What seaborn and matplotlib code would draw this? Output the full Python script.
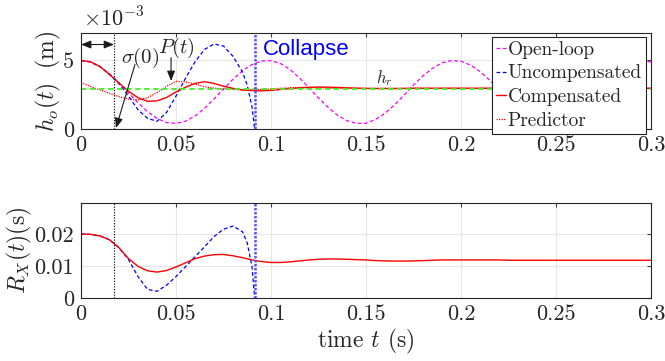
import numpy as np
import pandas as pd
import matplotlib
matplotlib.use("Agg")
import matplotlib.pyplot as plt
import seaborn as sns

# ------------------- data -------------------
# sample times for the full-length series (s)
t = np.round(np.arange(0, 0.3001, 0.005), 4)

# h_o(t) in units of 1e-3 m
h_open = [5.00, 4.88, 4.54, 4.02, 3.36, 2.63, 1.91, 1.26, 0.77, 0.47,
          0.41, 0.57, 0.95, 1.51, 2.19, 2.92, 3.63, 4.25, 4.70, 4.96,
          4.98, 4.77, 4.34, 3.72, 2.99, 2.26, 1.58, 1.00, 0.60, 0.41,
          0.42, 0.70, 1.15, 1.76, 2.47, 3.21, 3.88, 4.43, 4.83, 4.99,
          4.94, 4.66, 4.19, 3.57, 2.85, 2.12, 1.46, 0.92, 0.55, 0.40,
          0.52, 0.79, 1.28, 1.91, 2.63, 3.36, 4.02, 4.54, 4.88, 5.00,
          4.88]
h_comp = [5.00, 4.90, 4.55, 3.98, 3.35, 2.75, 2.28, 2.02, 2.05, 2.30,
          2.70, 3.05, 3.32, 3.45, 3.32, 3.12, 2.96, 2.85, 2.80, 2.78,
          2.82, 2.88, 2.95, 3.00, 3.04, 3.06, 3.05, 3.03, 3.00, 2.98,
          2.96, 2.95, 2.95, 2.95, 2.96, 2.97, 2.97, 2.97, 2.97, 2.97,
          2.97, 2.97, 2.97, 2.97, 2.97, 2.97, 2.97, 2.97, 2.97, 2.97,
          2.97, 2.97, 2.97, 2.97, 2.97, 2.97, 2.97, 2.97, 2.97, 2.97,
          2.97]
h_pred = [3.38, 3.10, 2.85, 2.60, 2.36, 2.18, 2.12, 2.28, 2.65, 3.12,
          3.48, 3.44, 3.28, 3.08, 2.98, 2.92, 2.88, 2.86, 2.86, 2.88,
          2.92, 2.97, 3.01, 3.03, 3.02, 3.00, 2.98, 2.97, 2.96, 2.96,
          2.96, 2.96, 2.96, 2.96, 2.96, 2.97, 2.97, 2.97, 2.97, 2.97,
          2.97, 2.97, 2.97, 2.97, 2.97, 2.97, 2.97, 2.97, 2.97, 2.97,
          2.97, 2.97, 2.97, 2.97, 2.97, 2.97, 2.97, 2.97, 2.97, 2.97,
          2.97]

# uncompensated run stops at the collapse
t_unc = [0, 0.005, 0.01, 0.015, 0.02, 0.025, 0.03, 0.035, 0.04, 0.045,
         0.05, 0.055, 0.06, 0.065, 0.07, 0.075, 0.08, 0.085, 0.0875, 0.09,
         0.0914]
h_unc = [5.00, 4.90, 4.55, 3.98, 3.30, 2.40, 1.40, 0.78, 0.56, 1.20,
         2.40, 3.70, 4.90, 5.80, 6.20, 6.05, 5.30, 4.15, 3.20, 1.60,
         0.0]

t_ref = [0, 0.3]
h_ref = [2.95, 2.95]

# R_X(t) in s
r_comp = [0.0200, 0.0199, 0.0194, 0.0182, 0.0157, 0.0123, 0.0099, 0.0085, 0.0081, 0.0086,
          0.0097, 0.0110, 0.0123, 0.0131, 0.01355, 0.0136, 0.0132, 0.0126, 0.0119, 0.0114,
          0.0111, 0.0111, 0.0113, 0.0116, 0.0119, 0.0121, 0.0122, 0.0122, 0.0121, 0.0120,
          0.0119, 0.0117, 0.0116, 0.01155, 0.01155, 0.0116, 0.0117, 0.0118, 0.0119, 0.0119,
          0.0119, 0.0119, 0.0119, 0.0119, 0.0119, 0.0118, 0.0118, 0.0118, 0.0118, 0.0118,
          0.0118, 0.0118, 0.0118, 0.0118, 0.0118, 0.0118, 0.0118, 0.0118, 0.0118, 0.0118,
          0.0118]
r_unc = [0.0200, 0.0199, 0.0194, 0.0182, 0.0157, 0.0120, 0.0067, 0.0027, 0.0021, 0.0040,
         0.0067, 0.0098, 0.0129, 0.0160, 0.0192, 0.0215, 0.0225, 0.0207, 0.0172, 0.0098,
         0.0]

sigma0 = 0.0174
t_collapse = 0.0914

x_ticks = [0, 0.05, 0.1, 0.15, 0.2, 0.25, 0.3]
x_tick_labels = ['0', '0.05', '0.1', '0.15', '0.2', '0.25', '0.3']
h_ticks = [0, 5]
r_ticks = [0, 0.01, 0.02]
r_tick_labels = ['0', '0.01', '0.02']

# ------------------- style -------------------
sns.set_theme(style='white')
plt.rcParams.update({
    'font.family': 'serif',
    'font.serif': ['cmr10'],
    'mathtext.fontset': 'cm',
    'axes.unicode_minus': False,
    'axes.formatter.use_mathtext': True,
})

fig = plt.figure(figsize=(6.65, 3.61), dpi=100)
ax1 = fig.add_axes([81/665, 1 - 129/361, 570/665, 96/361])
ax2 = fig.add_axes([81/665, 1 - 298/361, 570/665, 95/361])

for ax in (ax1, ax2):
    ax.grid(True, color='#e6e6e6', lw=0.8)
    ax.set_axisbelow(True)
    for s in ax.spines.values():
        s.set_color('#262626')
        s.set_linewidth(0.8)
    ax.tick_params(direction='in', length=3, width=0.8, color='#404040',
                   top=True, right=True, labelsize=16, pad=5)
    ax.set_xlim(0, 0.3)
    ax.set_xticks(x_ticks, x_tick_labels)

# ------------------- top: h_o(t) -------------------
df_h = pd.DataFrame({'t': t, 'open': h_open, 'comp': h_comp, 'pred': h_pred})
sns.lineplot(data=df_h, x='t', y='open', ax=ax1, color='#ff00ff', lw=0.9,
             linestyle=(0, (3, 2)), label='Open-loop')
sns.lineplot(x=t_unc, y=h_unc, ax=ax1, color='#0000ff', lw=0.9,
             linestyle=(0, (3, 2)), label='Uncompensated')
sns.lineplot(data=df_h, x='t', y='comp', ax=ax1, color='#ff0000', lw=1.0,
             label='Compensated')
sns.lineplot(data=df_h, x='t', y='pred', ax=ax1, color='#ff0000', lw=0.9,
             linestyle=(0, (1, 1)), label='Predictor')
sns.lineplot(x=t_ref, y=h_ref, ax=ax1, color='#44ee22', lw=1.3,
             linestyle=(0, (3, 2)), legend=False)

ax1.axvline(sigma0, color='k', ls=(0, (1, 1.2)), lw=0.9)
ax1.axvline(t_collapse, color='#5555ff', ls=(0, (1, 0.6)), lw=1.8)
ax1.set_ylim(0, 7)
ax1.set_yticks(h_ticks, ['0', '5'])
ax1.set_xlabel('')
ax1.set_ylabel(r'$h_o(t)\ \ (\mathrm{m})$', fontsize=17, labelpad=0)
ax1.text(0.004, 1.03, r'$\times 10^{-3}$', transform=ax1.transAxes,
         fontsize=16, va='bottom', ha='left')

ax1.annotate('', xy=(0, 6.16), xytext=(sigma0, 6.16),
             arrowprops=dict(arrowstyle='<|-|>,head_length=0.5,head_width=0.2',
                             color='k', lw=0.8, shrinkA=0, shrinkB=0))
ax1.text(0.0212, 5.2, r'$\sigma(0)$', fontsize=15, va='center', ha='left')
ax1.annotate('', xy=(0.0184, 0.07), xytext=(0.0284, 4.7),
             arrowprops=dict(arrowstyle='-|>,head_length=0.5,head_width=0.2',
                             color='k', lw=0.8, shrinkA=0, shrinkB=0))
ax1.text(0.0403, 5.9, r'$P(t)$', fontsize=15, va='center', ha='left')
ax1.annotate('', xy=(0.0474, 3.5), xytext=(0.0474, 5.2),
             arrowprops=dict(arrowstyle='-|>,head_length=0.5,head_width=0.2',
                             color='k', lw=0.8, shrinkA=0, shrinkB=0))
ax1.text(0.1555, 3.73, r'$h_r$', fontsize=12, va='center', ha='left')
ax1.text(0.0958, 5.36, 'Collapse', fontsize=16, color='#0000ff',
         family='Liberation Sans', va='baseline', ha='left')

leg = ax1.legend(loc='upper right', bbox_to_anchor=(0.991, 0.962),
                 fontsize=14, frameon=True, fancybox=False, framealpha=1,
                 edgecolor='#222222', borderpad=0.2, labelspacing=0.3,
                 handlelength=0.55, handletextpad=0.08, borderaxespad=0)
leg.get_frame().set_linewidth(0.8)

# ------------------- bottom: R_X(t) -------------------
df_r = pd.DataFrame({'t': t, 'comp': r_comp})
sns.lineplot(x=t_unc, y=r_unc, ax=ax2, color='#0000ff', lw=0.9,
             linestyle=(0, (3, 2)), legend=False)
sns.lineplot(data=df_r, x='t', y='comp', ax=ax2, color='#ff0000', lw=1.0,
             legend=False)
ax2.axvline(sigma0, color='k', ls=(0, (1, 1.2)), lw=0.9)
ax2.axvline(t_collapse, color='#5555ff', ls=(0, (1, 0.6)), lw=1.8)
ax2.set_ylim(0, 0.0297)
ax2.set_yticks(r_ticks, r_tick_labels)
ax2.set_ylabel(r'$R_X(t)(\mathrm{s})$', fontsize=17, labelpad=0)
ax2.set_xlabel(r'time $t$ (s)', fontsize=17, labelpad=2)

fig.savefig('out.png', dpi=100)
